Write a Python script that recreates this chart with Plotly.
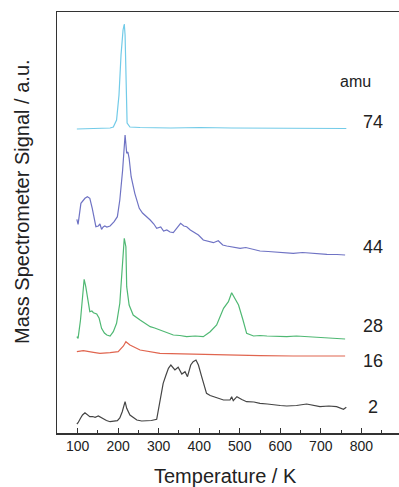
import plotly.graph_objects as go

# Temperature (K) and signal (a.u.)
t74 = [98, 155, 180, 188, 196, 202, 207, 212, 215, 217, 219, 221, 222, 229, 254, 330, 402, 480, 550, 649, 710, 763]
s74 = [304, 304.5, 305, 306, 313, 338, 378, 403, 409, 398, 343, 320, 310, 306, 305.5, 305, 305.5, 305, 305, 305, 304.5, 304.5]

t44 = [98, 101, 108, 118, 124, 130, 136, 145, 151, 155, 159, 163, 167, 172, 180, 190, 198, 204, 211, 217, 221, 224, 227, 232, 241,
       252, 260, 266, 279, 288, 295, 305, 312, 320, 328, 336, 344, 354, 362, 369, 378, 385, 398, 410, 422, 435, 447, 458, 468, 485,
       501, 515, 525, 538, 550, 570, 591, 610, 632, 655, 674, 695, 715, 740, 760]
s44 = [213.7, 208.7, 229.7, 234.7, 236.3, 234.7, 224.7, 206.3, 207, 209, 203.7, 206, 207, 206, 207, 211.3, 216.3, 233, 263, 298, 279.7, 281, 274.7, 256.3, 239.7,
       224.7, 220, 218, 213, 209, 204.7, 206, 202, 203, 201, 200.3, 204.7, 209.7, 207, 206.3, 203, 201.3, 198, 193, 192, 190.3, 192.3, 188, 187, 186,
       184.7, 185.5, 184.7, 183, 182, 181.5, 180.7, 180, 179.7, 180.5, 179.7, 179, 178.7, 178.5, 178]

t28 = [98, 101, 107, 112, 116, 120, 126, 130, 135, 139, 147, 153, 159, 166, 172, 180, 188, 196, 204, 210, 215, 219, 221, 227, 237,
       254, 265, 279, 290, 303, 320, 336, 352, 369, 390, 410, 427, 443, 460, 472, 480, 486, 497, 508, 517, 534, 550, 567, 590, 616,
       640, 665, 690, 715, 740, 760]
s28 = [96.3, 94.7, 113, 139.7, 153.7, 146.3, 129.7, 121.3, 122, 120.3, 119, 114.7, 104.7, 100, 98, 97, 101.3, 109.7, 129.7, 163, 194.7, 186.3, 146.3, 128, 118,
       113, 110, 106.3, 105, 103, 100, 98, 97.5, 96.3, 97, 96.3, 101.3, 108, 124.7, 131.3, 140.3, 135.7, 128, 113, 99.7, 97, 97.5, 97, 96.5, 96.3,
       97, 96.3, 96, 94.7, 94.5, 94]

t16 = [98, 114, 139, 155, 180, 200, 213, 219, 229, 254, 303, 385, 468, 550, 632, 700, 760]
s16 = [81.3, 82.3, 80.7, 79.7, 80.3, 81.3, 87, 91.3, 88, 83, 79.7, 78.7, 77.7, 77.3, 77, 77, 77]

t2 = [98, 101, 107, 112, 118, 124, 130, 137, 143, 151, 157, 163, 171, 180, 190, 198, 204, 210, 217, 221, 229, 246, 258, 270, 282,
      295, 301, 306, 311, 318, 324, 330, 340, 348, 357, 365, 371, 379, 385, 392, 398, 406, 412, 418, 427, 435, 447, 460, 476, 480,
      484, 493, 505, 517, 535, 550, 568, 583, 600, 616, 640, 665, 680, 698, 720, 739, 756, 763]
s2 = [9, 10.3, 14.7, 18, 20.3, 18.5, 16.3, 16.5, 15.7, 17, 15.5, 13.7, 12.5, 11.3, 11.5, 12.3, 15, 21.3, 31.3, 24.7, 18, 13, 12, 12, 12.5,
      13.7, 26.3, 38, 49.7, 58, 64.7, 68, 63, 65.7, 59, 61.3, 56.3, 68, 71.3, 73, 68, 56.3, 47, 39.7, 37.5, 36.3, 35, 33, 33, 36.3,
      32.3, 36.3, 33.5, 31.3, 31, 29.7, 29, 28, 27.5, 27, 27.5, 29, 28, 26.3, 27, 26.3, 23.7, 25.7]

series = [
    (t74, s74, "74", "#72cbe8", 311),
    (t44, s44, "44", "#6f73c4", 186),
    (t28, s28, "28", "#4fb873", 107),
    (t16, s16, "16", "#e0654f", 72),
    (t2, s2, "2", "#444444", 26),
]

fig = go.Figure()
for t, s, name, col, ly in series:
    fig.add_trace(go.Scatter(x=t, y=s, mode="lines", name=name,
                             line=dict(color=col, width=1.2), showlegend=False))

font_family = "Liberation Sans, Arial, sans-serif"
annotations = []
for t, s, name, col, ly in series:
    annotations.append(dict(x=829, y=ly, xref="x", yref="y", text=name, showarrow=False,
                            font=dict(size=18, color="#222", family=font_family),
                            xanchor="center", yanchor="middle"))
annotations.append(dict(x=785, y=352, xref="x", yref="y", text="amu", showarrow=False,
                        font=dict(size=16, color="#222", family=font_family),
                        xanchor="center", yanchor="middle"))
annotations.append(dict(x=(22 - 57) / 342, y=(433 - 202) / 421, xref="paper", yref="paper",
                        text="Mass Spectrometer Signal / a.u.", textangle=-90, showarrow=False,
                        font=dict(size=20, color="#222", family=font_family),
                        xanchor="center", yanchor="middle"))
annotations.append(dict(x=(225 - 57) / 342, y=(433 - 476) / 421, xref="paper", yref="paper",
                        text="Temperature / K", showarrow=False,
                        font=dict(size=20, color="#222", family=font_family),
                        xanchor="center", yanchor="middle"))

fig.update_layout(
    width=399, height=487,
    margin=dict(l=57, r=0, t=12, b=54),
    paper_bgcolor="white", plot_bgcolor="white",
    font=dict(family=font_family, color="#222"),
    annotations=annotations,
    xaxis=dict(range=[49, 893], showgrid=False, zeroline=False,
               showline=True, linecolor="#333", linewidth=1.5, mirror=True,
               ticks="inside", ticklen=5, tickcolor="#333", tickwidth=1,
               tickvals=[100, 200, 300, 400, 500, 600, 700, 800],
               tickfont=dict(size=14, color="#222"),
               minor=dict(ticks="inside", ticklen=3, tickcolor="#333",
                          tickvals=[50, 150, 250, 350, 450, 550, 650, 750, 850])),
    yaxis=dict(range=[0, 421], showgrid=False, zeroline=False,
               showline=True, linecolor="#333", linewidth=1.5, mirror=False,
               showticklabels=False, ticks=""),
)

fig.write_html("out.html", config={"staticPlot": True, "displayModeBar": False},
               post_script="document.body.style.margin='0';document.body.style.overflow='hidden';")
